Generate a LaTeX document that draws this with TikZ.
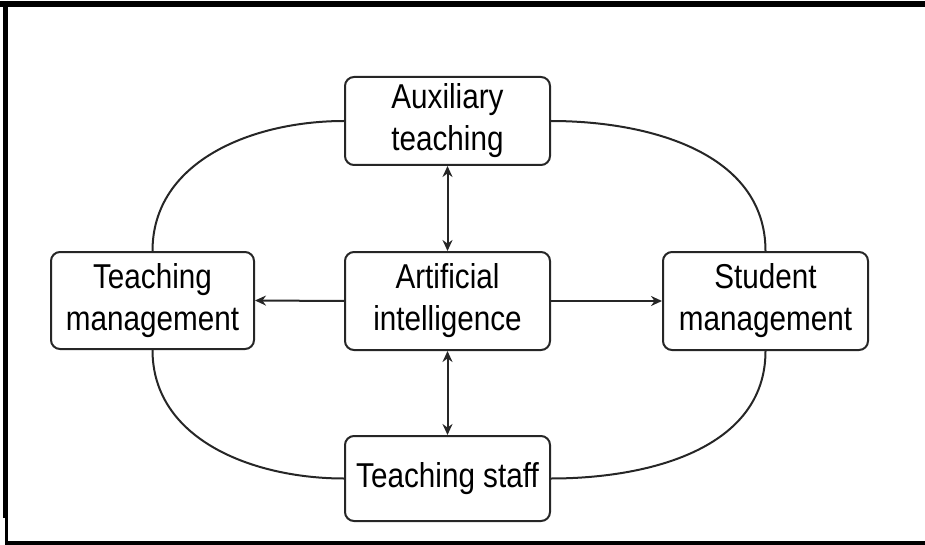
\documentclass[tikz,border=0pt]{standalone}
\usepackage{fontspec}
\setmainfont{Liberation Sans}[FakeStretch=0.86]
\usetikzlibrary{arrows.meta}
\begin{document}
\begin{tikzpicture}[x=1pt,y=-1pt,
  box/.style={draw=black!85, line width=2pt, rounded corners=9pt, fill=white,
    minimum width=205pt, inner sep=0pt, align=center,
    font=\fontsize{34.5}{42}\selectfont},
  conn/.style={draw=black!85, line width=2pt},
  arr/.style={conn, -{Stealth[length=11pt,width=10pt]}},
  darr/.style={conn, {Stealth[length=11pt,width=10pt]}-{Stealth[length=11pt,width=10pt]}}]
\useasboundingbox (0,0) rectangle (925,545);
% frame
\draw[line width=6pt] (0,4) -- (925,4);
\draw[line width=5pt] (5,1) -- (5,518);
\draw[line width=2.5pt] (6.5,518) -- (6.5,542);
\draw[line width=4pt] (5,543) -- (925,543);
% nodes
\node[box, minimum height=88pt] (aux) at (447.5,121) {Auxiliary\\teaching};
\node[box, minimum height=98pt] (ai) at (447.5,301) {Artificial\\intelligence};
\node[box, minimum height=85pt] (ts) at (447.5,478.5) {Teaching staff};
\node[box, minimum width=203pt, minimum height=97pt] (tm) at (152.5,300.5) {Teaching\\management};
\node[box, minimum height=98pt] (sm) at (765.5,301) {Student\\management};
% curves
\draw[conn] (aux.west) to[out=180,in=90] (tm.north);
\draw[conn] (aux.east) to[out=0,in=90] (sm.north);
\draw[conn] (tm.south) to[out=-90,in=180] (ts.west);
\draw[conn] (sm.south) to[out=-90,in=0] (ts.east);
% arrows
\draw[arr] (ai.west) -- (tm.east);
\draw[arr] (ai.east) -- (sm.west);
\draw[darr] (aux.south) -- (ai.north);
\draw[darr] (ai.south) -- (ts.north);
\end{tikzpicture}
\end{document}
